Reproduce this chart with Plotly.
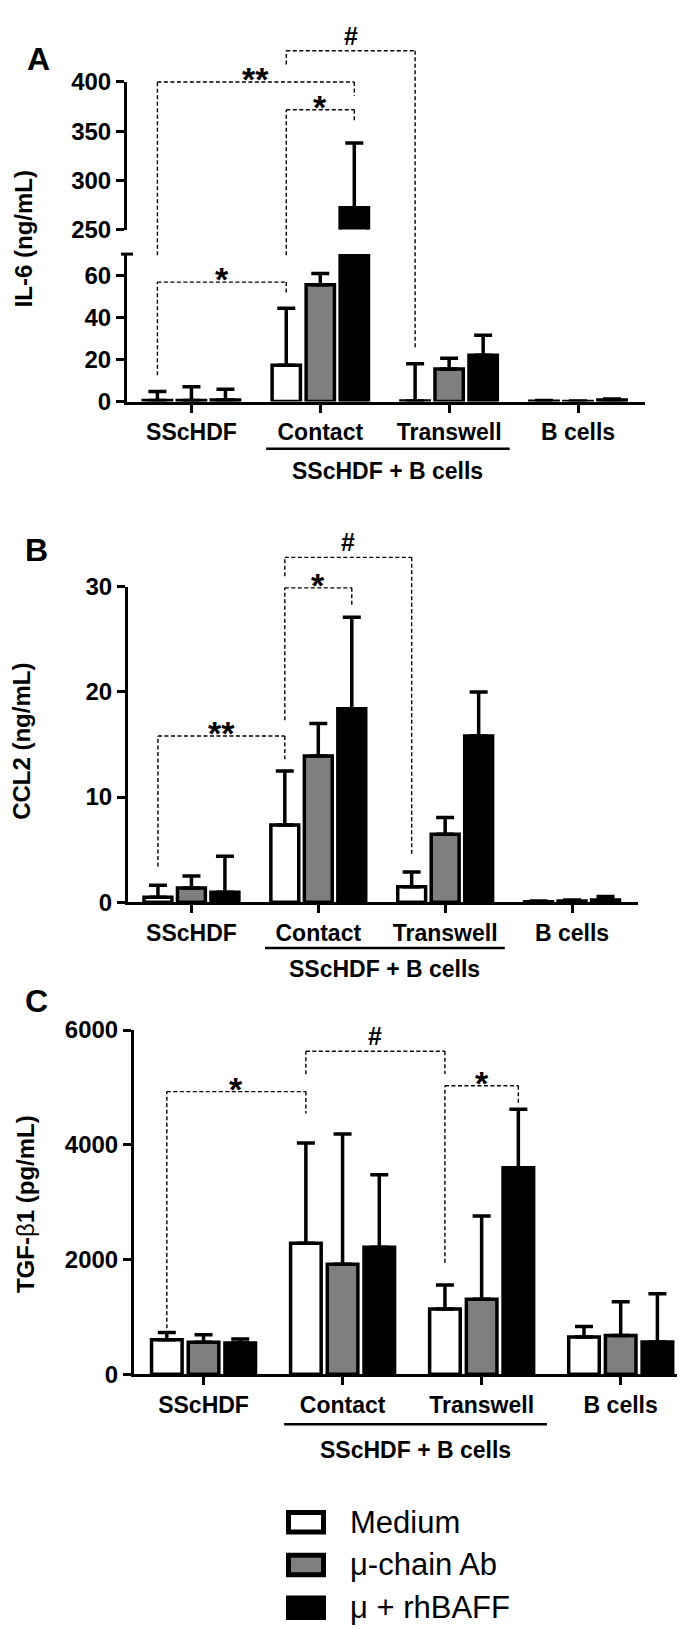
import plotly.graph_objects as go

# ---------------- data ----------------
categories = ["SScHDF", "Contact", "Transwell", "B cells"]
series_names = ["Medium", "μ-chain Ab", "μ + rhBAFF"]

il6_medium = [0.5, 17.3, 0.3, 0.2]
il6_medium_sd = [4.3, 27.0, 17.7, 0.3]
il6_mu = [0.5, 55.5, 15.5, 0.1]
il6_mu_sd = [6.6, 5.3, 5.1, 0.2]
il6_baff = [0.8, 272.0, 22.0, 0.8]
il6_baff_sd = [5.1, 66.0, 9.5, 0.4]

ccl2_medium = [0.47, 7.33, 1.47, 0.05]
ccl2_medium_sd = [1.13, 5.14, 1.40, 0.05]
ccl2_mu = [1.34, 13.9, 6.45, 0.10]
ccl2_mu_sd = [1.16, 3.10, 1.60, 0.10]
ccl2_baff = [0.94, 18.4, 15.8, 0.20]
ccl2_baff_sd = [3.43, 8.70, 4.20, 0.35]

tgf_medium = [600, 2285, 1135, 647]
tgf_medium_sd = [125, 1744, 420, 183]
tgf_mu = [555, 1915, 1305, 676]
tgf_mu_sd = [135, 2274, 1455, 586]
tgf_baff = [545, 2211, 3600, 562]
tgf_baff_sd = [68, 1264, 1017, 842]

il6_ticks_low = [0, 20, 40, 60]
il6_ticks_high = [250, 300, 350, 400]
ccl2_ticks = [0, 10, 20, 30]
tgf_ticks = [0, 2000, 4000, 6000]

# significance brackets: label, (category, series) start, (category, series) end,
# bracket height, left-leg end, right-leg end  -- heights as (segment, value)
il6_sig = [
    ("*", (0, 0), (1, 0), ("lo", 56.7), ("lo", 12.5), ("lo", 50.8)),
    ("**", (0, 0), (1, 2), ("hi", 400), ("lo", 69.5), ("hi", 386)),
    ("*", (1, 0), (1, 2), ("hi", 371.7), ("lo", 69.5), ("hi", 361)),
    ("#", (1, 0), (2, 0), ("hi", 431.7), ("hi", 417.7), ("lo", 24.6)),
]
ccl2_sig = [
    ("**", (0, 0), (1, 0), ("m", 15.8), ("m", 3.4), ("m", 13.6)),
    ("*", (1, 0), (1, 2), ("m", 29.9), ("m", 17.3), ("m", 28.2)),
    ("#", (1, 0), (2, 0), ("m", 32.8), ("m", 31.0), ("m", 4.37)),
]
tgf_sig = [
    ("*", (0, 0), (1, 0), ("m", 4926), ("m", 800), ("m", 4543)),
    ("#", (1, 0), (2, 0), ("m", 5629), ("m", 5229), ("m", 5229)),
    ("*", (2, 0), (2, 2), ("m", 5029), ("m", 1943), ("m", 4714)),
]

# ---------------- layout constants ----------------
W, H = 685, 1629
FILL = ["white", "#7f7f7f", "black"]
BARGAP = 0.208
BARGROUPGAP = 0.167
SLOT = (1 - BARGAP) / 3
XRANGE = [-0.5, 3.52]
FONT = "Liberation Sans, Arial, Helvetica, sans-serif"


def fx(px):
    return px / W


def fy(px):
    return 1 - px / H


panels = [
    dict(
        letter="A", letter_pos=(30, 38),
        title="IL-6 (ng/mL)", title_pos=(15, 221),
        xaxis="x", xname="xaxis", x_px=(119, 637),
        segs={
            "lo": dict(yaxis="y", yname="yaxis", px=(386, 236), rng=[0, 70], ticks=il6_ticks_low),
            "hi": dict(yaxis="y2", yname="yaxis2", px=(211, 61), rng=[250, 400], ticks=il6_ticks_high),
        },
        anchor_seg="lo",
        series=[(il6_medium, il6_medium_sd), (il6_mu, il6_mu_sd), (il6_baff, il6_baff_sd)],
        sig=il6_sig, under=(48, 71),
    ),
    dict(
        letter="B", letter_pos=(28, 537),
        title="CCL2 (ng/mL)", title_pos=(14, 732),
        xaxis="x2", xname="xaxis2", x_px=(120, 630),
        segs={"m": dict(yaxis="y3", yname="yaxis3", px=(895, 574.3), rng=[0, 30], ticks=ccl2_ticks)},
        anchor_seg="m",
        series=[(ccl2_medium, ccl2_medium_sd), (ccl2_mu, ccl2_mu_sd), (ccl2_baff, ccl2_baff_sd)],
        sig=ccl2_sig, under=(46.7, 68),
    ),
    dict(
        letter="C", letter_pos=(28, 995),
        title="TGF-<span style='font-weight:normal'>β</span>1 (pg/mL)", title_pos=(17, 1202),
        xaxis="x3", xname="xaxis3", x_px=(126, 685),
        segs={"m": dict(yaxis="y4", yname="yaxis4", px=(1375, 1025), rng=[0, 6000], ticks=tgf_ticks)},
        anchor_seg="m",
        series=[(tgf_medium, tgf_medium_sd), (tgf_mu, tgf_mu_sd), (tgf_baff, tgf_baff_sd)],
        sig=tgf_sig, under=(51, 76.7),
    ),
]

fig = go.Figure()
shapes = []
annotations = []
layout = {}

axis_common = dict(
    showline=True, linewidth=3, linecolor="black",
    ticks="outside", ticklen=8, tickwidth=3, tickcolor="black",
    showgrid=False, zeroline=False,
    tickfont=dict(family=FONT, size=24, color="black", weight="bold"),
)


def seg_fy(panel, seg, v):
    s = panel["segs"][seg]
    b, t = s["px"]
    r0, r1 = s["rng"]
    return fy(b - (v - r0) / (r1 - r0) * (b - t))


for p in panels:
    anchor = p["segs"][p["anchor_seg"]]
    layout[p["xname"]] = dict(
        axis_common, domain=[fx(p["x_px"][0]), min(1.0, fx(p["x_px"][1]))],
        range=XRANGE, anchor=anchor["yaxis"], type="category",
        categoryorder="array", categoryarray=categories,
        tickfont=dict(family=FONT, size=23, color="black", weight="bold"),
    )
    for key, s in p["segs"].items():
        layout[s["yname"]] = dict(
            axis_common, domain=[fy(s["px"][0]), fy(s["px"][1])],
            range=s["rng"], anchor=p["xaxis"], tickvals=s["ticks"],
        )
        for i, (vals, sd) in enumerate(p["series"]):
            fig.add_trace(go.Bar(
                x=categories, y=vals, name=series_names[i],
                xaxis=p["xaxis"], yaxis=s["yaxis"], showlegend=False,
                marker=dict(color=FILL[i], line=dict(color="black", width=3.5)),
                error_y=dict(type="data", array=sd, arrayminus=[0] * len(sd),
                             symmetric=False, color="black", thickness=3.5, width=9),
            ))

    # break mark at the top of lower IL-6 segment
    if "hi" in p["segs"]:
        ytop = fy(p["segs"]["lo"]["px"][1])
        shapes.append(dict(type="line", xref="paper", yref="paper",
                           x0=fx(p["x_px"][0] - 6), x1=fx(p["x_px"][0] + 6),
                           y0=ytop, y1=ytop, line=dict(color="black", width=3)))

    # significance brackets
    for label, (c0, s0), (c1, s1), top, lend, rend in p["sig"]:
        xa = c0 + (s0 - 1) * SLOT
        xb = c1 + (s1 - 1) * SLOT
        yt = seg_fy(p, *top)
        yl = seg_fy(p, *lend)
        yr = seg_fy(p, *rend)
        dash = dict(color="black", width=1.4, dash="4px,2.5px")
        for (x0, y0, x1, y1) in [(xa, yl, xa, yt), (xa, yt, xb, yt), (xb, yt, xb, yr)]:
            shapes.append(dict(type="line", xref=p["xaxis"], yref="paper",
                               x0=x0, y0=y0, x1=x1, y1=y1, line=dash))
        if label == "#":
            annotations.append(dict(text=label, x=(xa + xb) / 2, y=yt, xref=p["xaxis"], yref="paper",
                                    showarrow=False, yanchor="middle", yshift=15,
                                    font=dict(family=FONT, size=25, color="black", weight="bold")))
        else:
            annotations.append(dict(text=label, x=(xa + xb) / 2, y=yt, xref=p["xaxis"], yref="paper",
                                    showarrow=False, yanchor="middle", yshift=3,
                                    font=dict(family=FONT, size=34, color="black", weight="bold")))

    # group underline + label
    base_px = anchor["px"][0]
    uy = fy(base_px + p["under"][0])
    shapes.append(dict(type="line", xref=p["xaxis"], yref="paper", x0=0.58, x1=2.47,
                       y0=uy, y1=uy, line=dict(color="black", width=2.5)))
    annotations.append(dict(text="SScHDF + B cells", x=1.525, y=fy(base_px + p["under"][1]),
                            xref=p["xaxis"], yref="paper", showarrow=False, yanchor="middle",
                            font=dict(family=FONT, size=23, color="black", weight="bold")))

    # panel letter and y title
    annotations.append(dict(text=p["letter"], x=fx(p["letter_pos"][0]), y=fy(p["letter_pos"][1]),
                            xref="paper", yref="paper", showarrow=False,
                            xanchor="center", yanchor="middle",
                            font=dict(family=FONT, size=32, color="black", weight="bold")))
    annotations.append(dict(text=p["title"], x=fx(p["title_pos"][0]), y=fy(p["title_pos"][1]),
                            xref="paper", yref="paper", showarrow=False, textangle=-90,
                            xanchor="center", yanchor="middle",
                            font=dict(family=FONT, size=24, color="black", weight="bold")))

# custom legend
for i, name in enumerate(series_names):
    top = 1515.5 + i * 43.5
    shapes.append(dict(type="rect", xref="paper", yref="paper",
                       x0=fx(280.5), x1=fx(315.5), y0=fy(top), y1=fy(top + 20),
                       fillcolor=FILL[i], line=dict(color="black", width=5)))
    annotations.append(dict(text=name, x=fx(340), y=fy(top + 10), xref="paper", yref="paper",
                            showarrow=False, xanchor="left", yanchor="middle",
                            font=dict(family=FONT, size=31, color="black")))

fig.update_layout(
    width=W, height=H,
    margin=dict(l=0, r=0, t=0, b=0),
    paper_bgcolor="white", plot_bgcolor="white",
    barmode="group", bargap=BARGAP, bargroupgap=BARGROUPGAP,
    showlegend=False,
    shapes=shapes, annotations=annotations,
    font=dict(family=FONT, color="black"),
    **layout,
)

fig.write_html("out.html")
